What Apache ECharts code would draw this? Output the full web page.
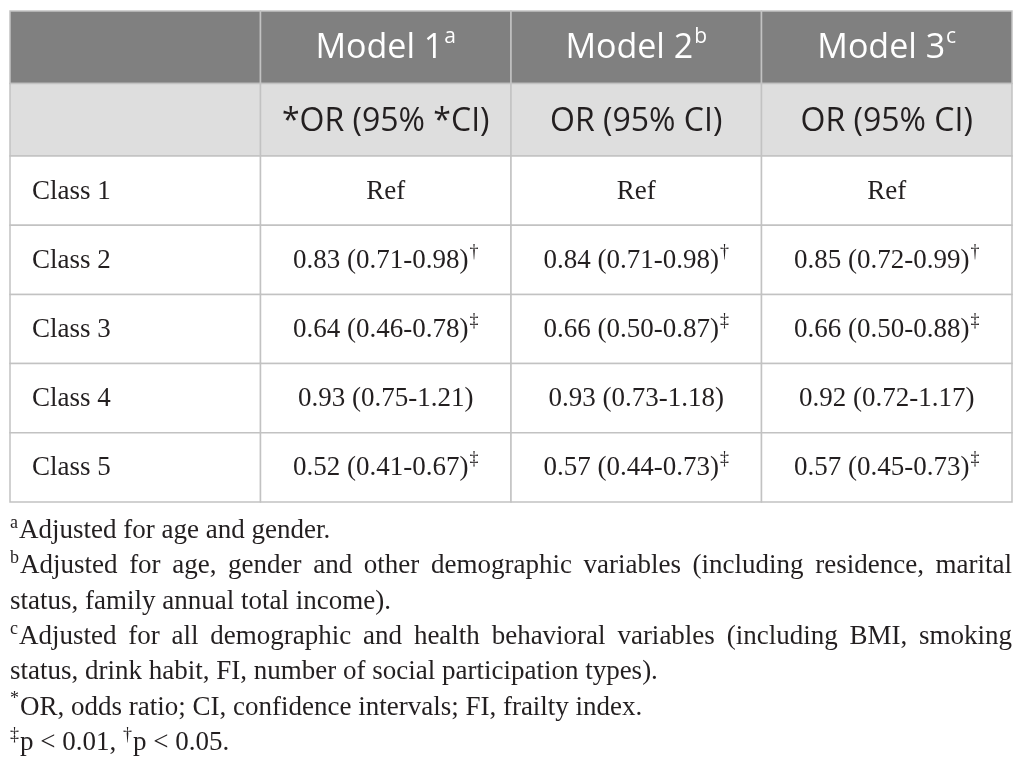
<!DOCTYPE html>
<html>
<head>
<meta charset="utf-8">
<script src="https://cdn.jsdelivr.net/npm/echarts@6/dist/echarts.min.js"></script>
<style>
  html, body { margin: 0; padding: 0; background: #fff; }
  #main { width: 1025px; height: 768px; }
</style>
</head>
<body>
<div id="main"></div>
<script>
// table content
const headers = ['', 'Model 1', 'Model 2', 'Model 3']
const headerMarks = ['', 'a', 'b', 'c']
const subHeaders = ['', '*OR (95% *CI)', 'OR (95% CI)', 'OR (95% CI)']
const classes = ['Class 1', 'Class 2', 'Class 3', 'Class 4', 'Class 5']
const model1 = ['Ref', '0.83 (0.71-0.98)', '0.64 (0.46-0.78)', '0.93 (0.75-1.21)', '0.52 (0.41-0.67)']
const model2 = ['Ref', '0.84 (0.71-0.98)', '0.66 (0.50-0.87)', '0.93 (0.73-1.18)', '0.57 (0.44-0.73)']
const model3 = ['Ref', '0.85 (0.72-0.99)', '0.66 (0.50-0.88)', '0.92 (0.72-1.17)', '0.57 (0.45-0.73)']
const sig1 = ['', '†', '‡', '', '‡']
const sig2 = ['', '†', '‡', '', '‡']
const sig3 = ['', '†', '‡', '', '‡']

// footnotes, one entry per printed line: [superscript, text, justified]
const noteLines = [
  ['a', 'Adjusted for age and gender.', false],
  ['b', 'Adjusted for age, gender and other demographic variables (including residence, marital', true],
  ['', 'status, family annual total income).', false],
  ['c', 'Adjusted for all demographic and health behavioral variables (including BMI, smoking', true],
  ['', 'status, drink habit, FI, number of social participation types).', false],
  ['*', 'OR, odds ratio; CI, confidence intervals; FI, frailty index.', false],
  ['‡', 'p < 0.01, {sup|†}p < 0.05.', false]
]

const SERIF = '"Liberation Serif", "DejaVu Serif", serif'
const SANS = '"Open Sans", Lato, sans-serif'
const INK = '#231f20'
const LINE = '#c2c2c2'

const chart = echarts.init(document.getElementById('main'))

// header cells: [col, row]
const headCells = []
headers.forEach((h, c) => headCells.push({ value: [c, 0], text: h, mark: headerMarks[c] }))
subHeaders.forEach((h, c) => headCells.push({ value: [c, 1], text: h, mark: '' }))

// body cells
const bodyCells = []
const models = [model1, model2, model3]
const sigs = [sig1, sig2, sig3]
classes.forEach((cls, r) => {
  bodyCells.push({ value: [0, r], text: cls, mark: '' })
  models.forEach((m, k) => bodyCells.push({ value: [k + 1, r], text: m[r], mark: sigs[k][r] }))
})

function cellRect(api) {
  const ctr = api.coord([api.value(0), api.value(1)])
  const size = api.size([1, 1])
  return { cx: ctr[0], cy: ctr[1], x: ctr[0] - size[0] / 2, y: ctr[1] - size[1] / 2, w: size[0], h: size[1] }
}

function renderHead(params, api) {
  const cell = headCells[params.dataIndex]
  const r = cellRect(api)
  const top = api.value(1) === 0
  const txt = cell.text + (cell.mark ? '{sup|' + cell.mark + '}' : '')
  const color = top ? '#ffffff' : INK
  return {
    type: 'group',
    children: [
      { type: 'rect', shape: { x: r.x, y: r.y, width: r.w, height: r.h },
        style: { fill: top ? '#808080' : '#dedede', stroke: LINE, lineWidth: 1.5 } },
      { type: 'text', x: r.cx, y: r.cy + (top ? 1 : 2),
        style: {
          text: txt, align: 'center', verticalAlign: 'middle',
          font: (top ? 34 : 32) + 'px ' + SANS, lineHeight: 44, fill: color,
          rich: { sup: { fontSize: 21, fontFamily: SANS, fill: color, verticalAlign: 'top', lineHeight: 31, padding: [0, 0, 0, 1] } }
        } }
    ]
  }
}

function renderBody(params, api) {
  const cell = bodyCells[params.dataIndex]
  const r = cellRect(api)
  const first = api.value(0) === 0
  const txt = cell.text + (cell.mark ? '{sup|' + cell.mark + '}' : '')
  return {
    type: 'group',
    children: [
      { type: 'rect', shape: { x: r.x, y: r.y, width: r.w, height: r.h },
        style: { fill: '#ffffff', stroke: LINE, lineWidth: 1.5 } },
      { type: 'text', x: first ? r.x + 22 : r.cx, y: r.cy + 1,
        style: {
          text: txt, align: first ? 'left' : 'center', verticalAlign: 'middle',
          font: '27px ' + SERIF, lineHeight: 36, fill: INK,
          rich: { sup: { fontSize: 18, fontFamily: SERIF, fill: INK, verticalAlign: 'top', lineHeight: 18, padding: [0, 0, 0, 1] } }
        } }
    ]
  }
}

// footnotes laid out as text, justified lines spread word by word
const measure = document.createElement('canvas').getContext('2d')
function textWidth(s, size) {
  measure.font = size + 'px ' + SERIF
  return measure.measureText(s).width
}
const NOTE_LEFT = 10
const NOTE_RIGHT = 1012
const noteRich = { sup: { fontSize: 18, fontFamily: SERIF, fill: INK, verticalAlign: 'top', lineHeight: 18, padding: [0, 1, 0, 0] } }
const noteGraphics = []
noteLines.forEach((ln, i) => {
  const y = 531 + i * 35.3
  const mark = ln[0]
  if (!ln[2]) {
    noteGraphics.push({
      type: 'text', x: NOTE_LEFT, y: y,
      style: { text: (mark ? '{sup|' + mark + '}' : '') + ln[1], font: '27px ' + SERIF, lineHeight: 34, fill: INK,
        align: 'left', verticalAlign: 'middle', rich: noteRich }
    })
    return
  }
  const words = ln[1].split(' ')
  const widths = words.map((w, k) => textWidth(w, 27) + (k === 0 && mark ? textWidth(mark, 18) + 1 : 0))
  const total = widths.reduce((a, b) => a + b, 0)
  const gap = (NOTE_RIGHT - NOTE_LEFT - total) / (words.length - 1)
  let x = NOTE_LEFT
  words.forEach((w, k) => {
    noteGraphics.push({
      type: 'text', x: x, y: y,
      style: { text: (k === 0 && mark ? '{sup|' + mark + '}' : '') + w, font: '27px ' + SERIF, lineHeight: 34, fill: INK,
        align: 'left', verticalAlign: 'middle', rich: noteRich }
    })
    x += widths[k] + gap
  })
})

const hiddenCat = (data, gridIndex, inverse) => ({
  type: 'category', data: data, gridIndex: gridIndex, inverse: !!inverse,
  axisLine: { show: false }, axisTick: { show: false }, axisLabel: { show: false }, splitLine: { show: false }
})

chart.setOption({
  animation: false,
  backgroundColor: '#ffffff',
  grid: [
    { left: 10, right: 13, top: 11, height: 145 },
    { left: 10, right: 13, top: 156, height: 346 }
  ],
  xAxis: [hiddenCat(headers, 0), hiddenCat(headers, 1)],
  yAxis: [hiddenCat(['header', 'sub'], 0, true), hiddenCat(classes, 1, true)],
  series: [
    { type: 'custom', xAxisIndex: 0, yAxisIndex: 0, data: headCells, renderItem: renderHead, silent: true },
    { type: 'custom', xAxisIndex: 1, yAxisIndex: 1, data: bodyCells, renderItem: renderBody, silent: true }
  ],
  graphic: noteGraphics
})

window.addEventListener('resize', () => chart.resize())
</script>
</body>
</html>
